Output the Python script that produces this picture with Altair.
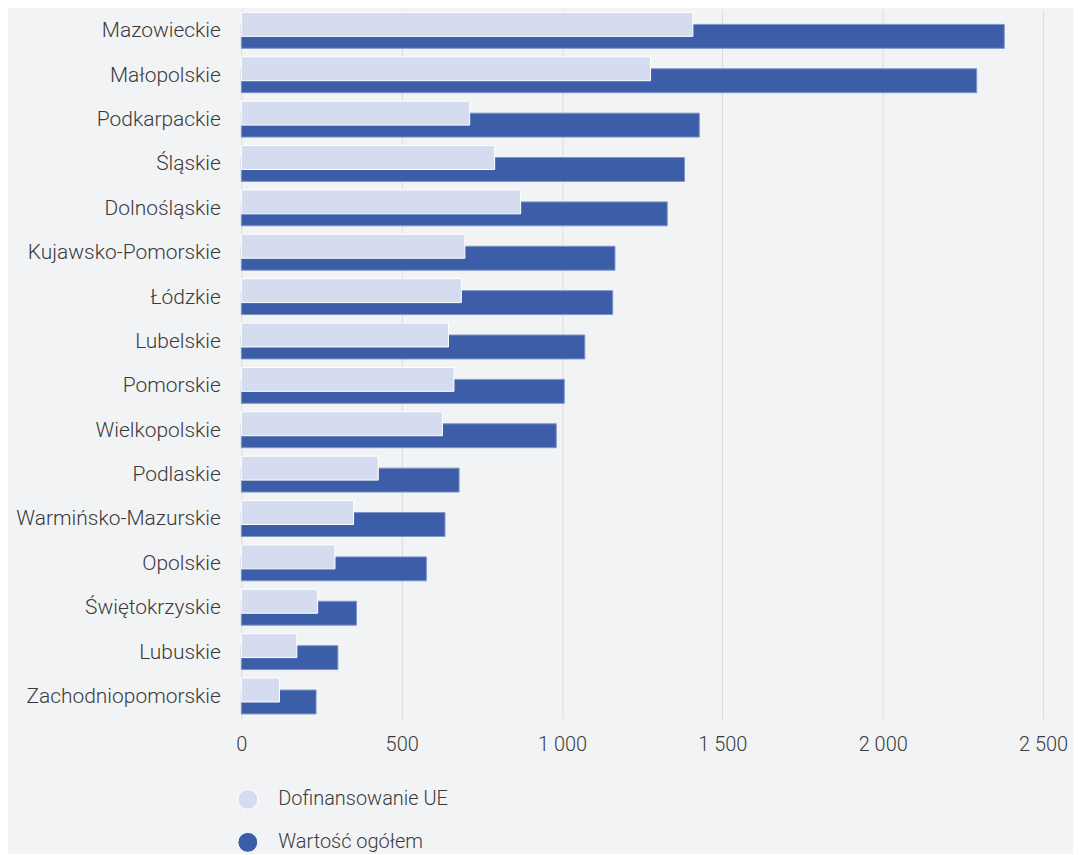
import altair as alt
import pandas as pd

regions = ["Mazowieckie", "Małopolskie", "Podkarpackie", "Śląskie", "Dolnośląskie",
           "Kujawsko-Pomorskie", "Łódzkie", "Lubelskie", "Pomorskie", "Wielkopolskie",
           "Podlaskie", "Warmińsko-Mazurskie", "Opolskie", "Świętokrzyskie", "Lubuskie",
           "Zachodniopomorskie"]
dofinansowanie = [1408, 1276, 712, 790, 871, 697, 686, 646, 663, 627, 427, 350, 292, 238, 173, 119]
wartosc = [2379, 2293, 1428, 1382, 1328, 1165, 1158, 1071, 1007, 982, 679, 635, 577, 359, 301, 233]
series_names = ["Dofinansowanie UE", "Wartość ogółem"]
series_colors = ["#D6DCEF", "#3C5EA8"]
x_ticks = [0, 500, 1000, 1500, 2000, 2500]

rows = []
for r, a, b in zip(regions, dofinansowanie, wartosc):
    rows.append({"region": r, "series": series_names[0], "value": a})
    rows.append({"region": r, "series": series_names[1], "value": b})
df = pd.DataFrame(rows)

FONT = "Roboto"
TXT = "#3a3a3a"

color = alt.Color(
    "series:N",
    scale=alt.Scale(domain=series_names, range=series_colors),
    legend=alt.Legend(
        title=None, orient="none", legendX=-4, legendY=782, direction="vertical",
        symbolType="circle", symbolSize=400, symbolStrokeColor="white", symbolStrokeWidth=1,
        labelFont=FONT, labelFontSize=20, labelFontWeight=300, labelColor=TXT,
        labelOffset=20, rowPadding=18, padding=0, symbolOpacity=1, labelLimit=0,
    ),
)

x = alt.X(
    "value:Q",
    scale=alt.Scale(domain=[0, 2500], nice=False),
    axis=alt.Axis(
        values=x_ticks, title=None, ticks=False, domain=False, grid=True,
        gridColor="#dcdcdc", gridWidth=1, labelFont=FONT, labelFontSize=20,
        labelFontWeight=300, labelColor=TXT, labelPadding=15, labelFlush=False,
        labelExpr="replace(format(datum.value, ','), ',', ' ')",
    ),
)
y = alt.Y(
    "region:N",
    sort=regions,
    scale=alt.Scale(paddingInner=0, paddingOuter=0),
    axis=alt.Axis(
        title=None, ticks=False, domain=False, grid=False, labelFont=FONT,
        labelFontSize=21, labelFontWeight=300, labelColor=TXT, labelPadding=21,
        labelLimit=0,
    ),
)

base = alt.Chart(df)
dark = base.transform_filter(alt.datum.series == series_names[1]).mark_bar(
    size=24, yOffset=5, stroke="#7f95c9", strokeWidth=1
).encode(x=x, y=y, color=color)
light = base.transform_filter(alt.datum.series == series_names[0]).mark_bar(
    size=24, yOffset=-7, stroke="white", strokeWidth=1
).encode(x=x, y=y, color=color)

chart = alt.layer(dark, light).properties(
    width=804, height=712,
    autosize=alt.AutoSizeParams(type="none"),
    padding={"left": 234, "top": 0, "right": 30, "bottom": 134},
    background="#F2F3F5",
).configure_view(stroke=None)

chart.save("out.html", embed_options={"renderer": "svg", "actions": False})
